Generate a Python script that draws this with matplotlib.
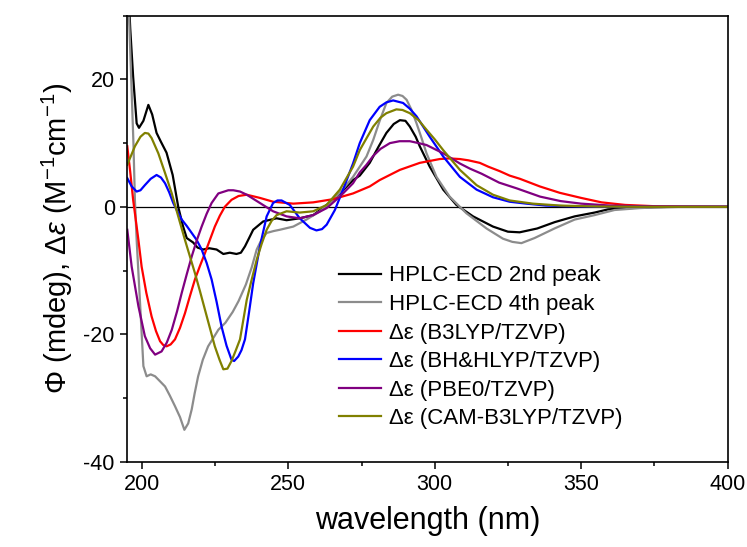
#!/usr/bin/env python3
"""ECD experimental vs calculated spectra (HPLC-ECD peaks + TDDFT)."""
import matplotlib

matplotlib.use("Agg")
import matplotlib.pyplot as plt
from matplotlib.ticker import MultipleLocator

# --- data --------------------------------------------------------------------
wl_2nd = [195.5, 196, 197, 198.2, 199, 200.5, 202.2, 203.5, 205, 206.5, 208.4, 210.5,
          212.4, 214, 215.3, 217.5, 219, 220.9, 223, 225.5, 227.8, 230, 232.3, 233.8,
          235.2, 236.5, 238, 241.4, 246, 249.4, 253.9, 258.5, 263.1, 267.6, 272.1,
          274.4, 277.8, 281, 283.5, 286, 288.1, 290, 291.5, 293.5, 294.9, 298.3, 302.9,
          307.4, 313.1, 319.9, 325, 329, 335, 341, 347.8, 354.6, 359.2, 366, 375, 385, 400]
ecd_2nd = [33, 28, 20.4, 13.1, 12.4, 13.5, 16.0, 14.5, 11.6, 10.2, 8.5, 5.0,
           0.0, -3.0, -4.9, -5.6, -6.4, -6.7, -6.5, -6.7, -7.4, -7.2, -7.4, -7.2,
           -6.2, -5.0, -3.6, -2.3, -1.8, -2.1, -1.8, -1.3, 0.3, 2.1, 4.2,
           4.9, 6.9, 9.6, 11.6, 13.0, 13.6, 13.5, 12.6, 11.0, 9.5, 6.3, 2.7,
           0.3, -1.5, -3.1, -3.9, -4.0, -3.4, -2.4, -1.5, -0.9, -0.4, -0.2, -0.05, 0, 0]

wl_4th = [195, 195.6, 196.5, 197.1, 197.6, 198.2, 199.3, 200.5, 201.6, 203, 204.5, 206,
          207.9, 209.5, 211.3, 213, 214.5, 215.8, 217, 218, 219.2, 220.8, 222.6, 224.5,
          226.1, 228.5, 231, 233, 235.5, 237.5, 239.2, 240.8, 242.6, 245, 247.1, 251.7,
          256.2, 260.8, 265.3, 268.7, 272.1, 276.7, 279, 281.2, 283.5, 285.5, 287.5, 289,
          290.4, 292, 293.8, 295.5, 297.2, 300.6, 305.1, 310.8, 317.7, 323.3, 326.5,
          329.6, 334.1, 340.9, 347.8, 354.6, 361.4, 370, 380, 400]
ecd_4th = [35, 29.8, 18, 10, 1.1, -5.2, -14.6, -25.0, -26.6, -26.3, -26.6, -27.3,
           -28.2, -29.6, -31.3, -33.0, -35.0, -34.0, -31.8, -29.3, -26.6, -24.0, -21.9, -20.5,
           -19.3, -18.2, -16.5, -14.8, -12.2, -9.5, -6.7, -5.2, -4.1, -3.8, -3.6, -3.1,
           -2.0, -0.7, 1.1, 2.8, 4.7, 7.9, 10.5, 13.5, 16.3, 17.3, 17.6, 17.4,
           16.8, 15.3, 13.1, 10.8, 8.4, 4.7, 1.6, -1.0, -3.4, -5.0, -5.5,
           -5.7, -4.9, -3.4, -2.0, -1.3, -0.5, -0.2, 0, 0]

wl_b3lyp = [195, 196, 197, 198.8, 199.9, 201.5, 203.3, 204.8, 206.2, 207.3, 208.4, 209.8,
            211.3, 213, 214.7, 216.4, 218.1, 219.8, 221.5, 223.2, 224.9, 226.6, 228.3,
            230.6, 233, 235.8, 240.3, 244.8, 251.7, 258.5, 265.3, 272.1, 277.8, 281.2,
            288.1, 294.9, 301.7, 305, 308.6, 311.5, 315.4, 318.3, 322.2, 325.6, 329.1,
            335.9, 342.7, 350, 357, 365, 375, 385, 400]
de_b3lyp = [9.5, 5.5, 1.1, -5.2, -9.4, -13.5, -17.2, -19.5, -21.1, -21.7, -21.9, -21.6,
            -20.8, -19.0, -16.7, -14.0, -11.4, -9.3, -7.3, -5.2, -3.1, -1.4, 0.0,
            1.1, 1.7, 1.9, 1.4, 0.8, 0.5, 0.7, 1.2, 2.1, 3.2, 4.2,
            5.8, 6.9, 7.5, 7.6, 7.5, 7.3, 6.9, 6.3, 5.6, 4.9, 4.4,
            3.2, 2.2, 1.4, 0.7, 0.3, 0.1, 0.02, 0]

wl_bhh = [195, 196.5, 198.2, 199.5, 201, 203, 205, 206.5, 207.9, 209.3, 210.7, 212.2,
          213.6, 215.3, 217, 218.7, 220.4, 222.1, 223.8, 225.5, 227.2, 228.9, 230.6, 231.5,
          232.9, 234, 235.2, 236.6, 238, 240.3, 242.6, 244.8, 246.3, 247.7, 250.5, 253.9,
          257.4, 259.6, 261.5, 263.1, 265.9, 268.7, 272.1, 274.4, 277.8, 281.2, 283.5,
          285.8, 289.2, 291.5, 293.8, 298.3, 302.9, 308.6, 314.3, 319.9, 325.6, 331.3,
          338, 345, 355, 370, 400]
de_bhh = [4.5, 3.2, 2.4, 2.6, 3.4, 4.4, 5.0, 4.6, 3.7, 2.3, 0.6, -0.8,
          -2.0, -3.0, -4.1, -5.2, -6.7, -8.8, -11.4, -14.9, -18.8, -21.8, -24.0, -24.2,
          -23.5, -22.5, -20.8, -16.5, -12.0, -6.2, -1.5, 0.6, 1.0, 1.0, 0.3, -1.8,
          -3.3, -3.7, -3.5, -2.8, -0.5, 2.7, 6.8, 10.0, 13.6, 15.7, 16.4,
          16.7, 16.3, 15.4, 14.2, 11.0, 7.9, 4.7, 2.7, 1.5, 0.8, 0.5,
          0.2, 0.1, 0.03, 0, 0]

wl_pbe0 = [195, 196.5, 198.8, 201, 202.8, 204.5, 206.7, 208.5, 210.2, 212, 213.6, 215.3,
           217, 218.7, 220.4, 222.1, 223.8, 226.1, 229.5, 231.2, 233.5, 235.8, 240.3,
           244.8, 249.4, 253.9, 258.5, 263.1, 267.6, 272.1, 274.4, 276.7, 279, 281.5,
           284.7, 288, 291.5, 294.5, 297.2, 302.9, 308.6, 312, 316, 322, 328, 336, 343,
           350, 360, 375, 400]
de_pbe0 = [-3.6, -9.4, -15.6, -20.3, -22.2, -23.2, -22.7, -21.3, -19.3, -16.4, -13.5, -10.6,
           -7.8, -5.3, -3.1, -1.1, 0.6, 2.1, 2.6, 2.6, 2.4, 1.9, 0.6,
           -0.7, -1.5, -1.8, -1.3, -0.2, 1.6, 3.7, 5.4, 6.6, 8.0, 9.1,
           10.0, 10.3, 10.3, 10.0, 9.7, 8.4, 6.8, 6.0, 5.2, 3.8, 2.9, 1.6, 0.9,
           0.5, 0.2, 0.05, 0]

wl_cam = [195, 197.6, 199.5, 201, 202.2, 203.3, 205.6, 207.9, 210.2, 212.4, 214.7, 216.4,
          218.1, 219.8, 221.5, 223.2, 224.9, 226.5, 227.8, 229.2, 230.6, 232, 233.5, 235.8,
          237.5, 239.2, 240.9, 242.6, 244.3, 246, 249.4, 253.9, 258.5, 263.1, 267.6,
          272.1, 274.4, 277, 279, 281.5, 283.5, 286.9, 289, 291.5, 294.5, 297.2, 300,
          302.9, 308.6, 314.3, 319.9, 325.6, 333.5, 342.7, 355, 370, 400]
de_cam = [6.6, 9.5, 11.0, 11.6, 11.5, 10.8, 8.4, 5.3, 2.1, -1.5, -5.2, -7.8,
          -10.4, -13.2, -16.1, -19.0, -21.9, -24.0, -25.5, -25.4, -24.2, -22.6, -20.8, -14.6,
          -11.4, -8.3, -5.8, -3.6, -2.2, -1.3, -0.7, -0.9, -0.7, 0.3, 2.7,
          6.3, 8.9, 11.0, 12.6, 14.0, 14.7, 15.3, 15.2, 14.7, 13.6, 12.1, 10.6,
          8.9, 5.8, 3.4, 1.9, 1.0, 0.5, 0.2, 0.05, 0, 0]

labels = [
    "HPLC-ECD 2nd peak",
    "HPLC-ECD 4th peak",
    "\u0394\u03b5 (B3LYP/TZVP)",
    "\u0394\u03b5 (BH&HLYP/TZVP)",
    "\u0394\u03b5 (PBE0/TZVP)",
    "\u0394\u03b5 (CAM-B3LYP/TZVP)",
]
colors = ["#000000", "#8c8c8c", "#ff0000", "#0000ff", "#800080", "#808000"]


def main() -> None:
    plt.rcParams["font.family"] = ["Liberation Sans", "DejaVu Sans"]
    plt.rcParams["mathtext.fontset"] = "custom"
    plt.rcParams["mathtext.rm"] = "Liberation Sans"
    plt.rcParams["mathtext.it"] = "Liberation Sans:italic"
    plt.rcParams["axes.unicode_minus"] = False

    fig = plt.figure(figsize=(7.47, 5.47), dpi=100)
    ax = fig.add_axes([0.1704, 0.156, 0.8035, 0.8153])

    ax.axhline(0, color="black", lw=0.9, zorder=1)

    series = [
        (wl_2nd, ecd_2nd),
        (wl_4th, ecd_4th),
        (wl_b3lyp, de_b3lyp),
        (wl_bhh, de_bhh),
        (wl_pbe0, de_pbe0),
        (wl_cam, de_cam),
    ]
    for (x, y), lab, col in zip(series, labels, colors):
        ax.plot(x, y, color=col, lw=1.6, label=lab, zorder=2)

    ax.set_xlim(195, 400)
    ax.set_ylim(-40, 30)
    ax.set_xticks([200, 250, 300, 350, 400])
    ax.set_yticks([-40, -20, 0, 20])
    ax.xaxis.set_minor_locator(MultipleLocator(25))
    ax.yaxis.set_minor_locator(MultipleLocator(10))
    ax.tick_params(which="major", direction="out", length=5, width=1.1, labelsize=15.5,
                   top=False, right=False, pad=4)
    ax.tick_params(which="minor", direction="out", length=3.2, width=1.1,
                   top=False, right=False)
    for sp in ax.spines.values():
        sp.set_linewidth(1.2)

    ax.set_xlabel("wavelength (nm)", fontsize=22, labelpad=8)
    ax.set_ylabel(r"$\Phi$ (mdeg), $\Delta\varepsilon$ (M$^{-1}$cm$^{-1}$)", fontsize=21,
                  labelpad=6)

    ax.legend(loc="upper left", bbox_to_anchor=(0.352, 0.44), frameon=False, fontsize=16,
              handlelength=1.9, handletextpad=0.35, labelspacing=0.34, borderpad=0,
              borderaxespad=0)

    fig.savefig("out.png", dpi=100)
    plt.close(fig)


if __name__ == "__main__":
    main()
